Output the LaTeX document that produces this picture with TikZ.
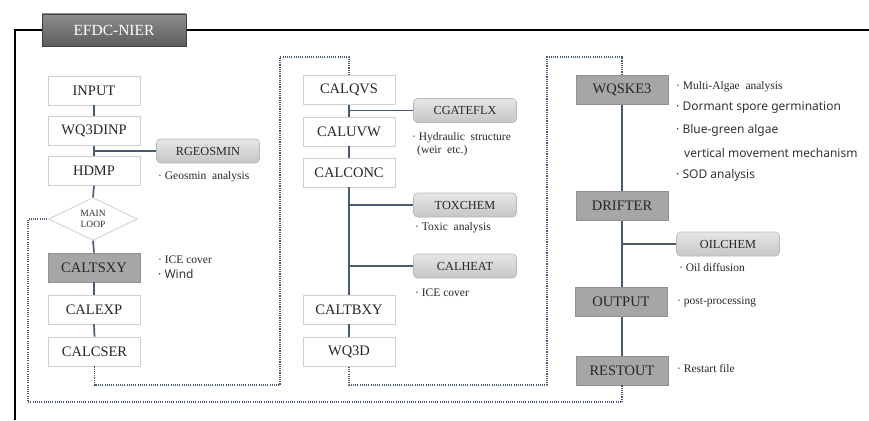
\documentclass[tikz,border=0pt]{standalone}
\usepackage{fontspec}
\setmainfont{Liberation Serif}
\newfontfamily\sansf{Noto Sans}
\usetikzlibrary{shapes.geometric}
\definecolor{conn}{HTML}{4A5A70}
\definecolor{wborder}{HTML}{CFCFCF}
\definecolor{dfill}{HTML}{A6A6A6}
\definecolor{dborder}{HTML}{909090}
\definecolor{ltop}{HTML}{E6E6E6}
\definecolor{lbot}{HTML}{C6C6C6}
\definecolor{lborder}{HTML}{B8B8B8}
\definecolor{ttop}{HTML}{8E8E8E}
\definecolor{tbot}{HTML}{5C5C5C}
\begin{document}
\begin{tikzpicture}[x=1pt,y=-1pt,
  wbox/.style={draw=wborder, line width=0.8pt, fill=white, minimum width=92, minimum height=29, inner sep=0, text=black!85, font=\fontsize{14.5}{16}\selectfont},
  dbox/.style={wbox, fill=dfill, draw=dborder},
  lbox/.style={draw=lborder, line width=0.6pt, rounded corners=4pt, top color=ltop, bottom color=lbot, minimum width=103, minimum height=24, inner sep=0, text=black!85, font=\fontsize{12.3}{14}\selectfont},
  conline/.style={draw=conn, line width=1.7pt},
  dotline/.style={draw=conn, line width=1.5pt, dash pattern=on 1.1pt off 1.1pt},
  note/.style={anchor=west, inner sep=0, text=black!85, font=\fontsize{11.5}{13}\selectfont},
  snote/.style={anchor=west, inner sep=0, font=\sansf\fontsize{12}{13}\selectfont, text=black!80}
]
\useasboundingbox (0,0) rectangle (869,420);

% frame
\draw[line width=1.3pt, black] (15,420) -- (15,30) -- (869,30);
\node[draw=black!75, line width=0.8pt, top color=ttop, bottom color=tbot, minimum width=144, minimum height=32, inner sep=0, text=white, font=\fontsize{15.5}{17}\selectfont] (tab) at (114,30) {EFDC-NIER};

% left column
\node[wbox] (input) at (94,90.5) {INPUT};
\node[wbox] (wq3dinp) at (94,131) {WQ3DINP};
\node[wbox] (hdmp) at (94,171) {HDMP};
\node[diamond, draw=wborder, line width=0.8pt, fill=white, minimum width=89, minimum height=42, inner sep=0, align=center, text=black!80, font=\fontsize{9.5}{11}\selectfont] (main) at (93,219) {MAIN\\LOOP};
\node[dbox] (caltsxy) at (94,267.5) {CALTSXY};
\node[wbox] (calexp) at (94,309.5) {CALEXP};
\node[wbox] (calcser) at (94.5,351.5) {CALCSER};
\node[lbox] (rgeosmin) at (208,151) {RGEOSMIN};

% middle column
\node[wbox] (calqvs) at (349,90) {CALQVS};
\node[wbox] (caluvw) at (349,131.5) {CALUVW};
\node[wbox] (calconc) at (349,172.5) {CALCONC};
\node[wbox] (caltbxy) at (349,309.5) {CALTBXY};
\node[wbox] (wq3d) at (349,352) {WQ3D};
\node[lbox] (cgateflx) at (465,110.5) {CGATEFLX};
\node[lbox] (toxchem) at (465,205) {TOXCHEM};
\node[lbox] (calheat) at (465,266) {CALHEAT};

% right column
\node[dbox] (wqske3) at (622,90) {WQSKE3};
\node[dbox] (drifter) at (622,206) {DRIFTER};
\node[dbox] (output) at (621,302) {OUTPUT};
\node[dbox] (restout) at (622,370.5) {RESTOUT};
\node[lbox] (oilchem) at (728,244) {OILCHEM};

% solid connectors
\draw[conline] (input.south) -- (wq3dinp.north);
\draw[conline] (wq3dinp.south) -- (hdmp.north);
\draw[conline] (rgeosmin.west) -- (rgeosmin.west -| hdmp.north);
\draw[conline] (hdmp.south) -- (main.north);
\draw[conline] (main.south) -- (caltsxy.north);
\draw[conline] (caltsxy.south) -- (calexp.north);
\draw[conline] (calexp.south) -- (calcser.north);

\draw[conline] (calqvs.south) -- (caluvw.north);
\draw[conline] (cgateflx.west) -- (cgateflx.west -| calqvs.south);
\draw[conline] (caluvw.south) -- (calconc.north);
\draw[conline] (calconc.south) -- (caltbxy.north);
\draw[conline] (toxchem.west) -- (toxchem.west -| calconc.south);
\draw[conline] (calheat.west) -- (calheat.west -| calconc.south);
\draw[conline] (caltbxy.south) -- (wq3d.north);

\draw[conline] (wqske3.south) -- (drifter.north);
\draw[conline] (drifter.south) -- (output.north -| drifter.south);
\draw[conline] (oilchem.west) -- (oilchem.west -| drifter.south);
\draw[conline] (output.south -| restout.north) -- (restout.north);

% dotted loop connectors
\coordinate (d1) at (280,385);
\coordinate (d2) at (280,57);
\coordinate (d3) at (547,385);
\coordinate (d4) at (547,57);
\coordinate (d5) at (28,402);
\draw[dotline] (calcser.south) |- (d1) -- (d2) -| (calqvs.north);
\draw[dotline] (wq3d.south) |- (d3) -- (d4) -| (wqske3.north);
\draw[dotline] (restout.south) |- (d5) |- (main.west);

% notes
\node[note] (n1) at (158,177) {·~Geosmin\ \ analysis};
\node[note] (n2) at (158,260) {·~ICE cover};
\node[snote] (n3) at (158,274) {·~Wind};
\node[note] (n4) at (412,138) {·~Hydraulic\ \ structure};
\node[note] (n5) at (417,151) {(weir\ \ etc.)};
\node[note] (n6) at (415,228) {·~Toxic\ \ analysis};
\node[note] (n7) at (415,293) {·~ICE cover};
\node[note] (n8) at (676,87) {·~Multi-Algae\ \ analysis};
\node[snote] (n9) at (676,108) {·~Dormant spore germination};
\node[snote] (n10) at (676,130) {·~Blue-green algae};
\node[snote] (n11) at (684,153) {vertical movement mechanism};
\node[snote] (n12) at (676,175) {·~SOD analysis};
\node[note] (n13) at (679,268) {·~Oil diffusion};
\node[note] (n14) at (677,302) {·~post-processing};
\node[note] (n15) at (677,369) {·~Restart file};
\end{tikzpicture}
\end{document}
